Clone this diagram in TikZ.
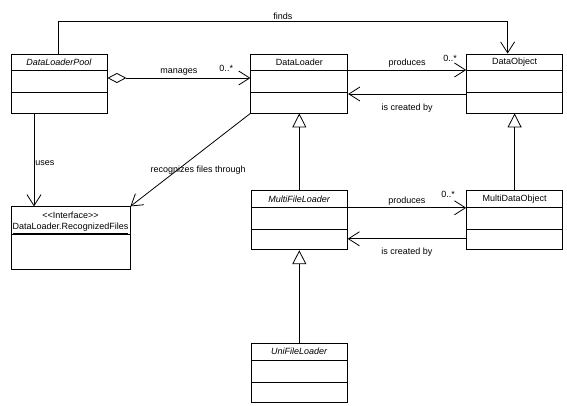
\documentclass[tikz,border=0pt]{standalone}
\usepackage{fontspec}
\setmainfont{Liberation Sans}
\usetikzlibrary{arrows.meta,positioning}

\begin{document}
\begin{tikzpicture}[x=1pt,y=1pt,line width=0.8pt,
  every node/.style={font=\fontsize{9}{11}\selectfont,inner sep=1pt},
  classbox/.style={draw,minimum width=96pt,minimum height=59pt,inner sep=0pt},
  assoc/.style={-{Straight Barb[length=11pt,width=14pt]}},
  aggr/.style={{Diamond[open,length=19pt,width=10pt]}-{Straight Barb[length=11pt,width=14pt]}},
  inherit/.style={-{Triangle[open,length=14pt,width=14pt]}}]
\useasboundingbox (0,0) rectangle (567,406);
% classes
\node[classbox] (pool) at (59,322.5) {};
\node[classbox,minimum width=97pt,right=143pt of pool] (loader) {};
\node[classbox,right=118pt of loader] (object) {};
\node[classbox,below=77pt of loader] (multi) {};
\node[classbox,below=77pt of object] (multiobj) {};
\node[classbox,below=93pt of multi] (uni) {};
\node[classbox,minimum width=119pt,minimum height=63pt,
  below right=93pt and 0pt of pool.south west] (iface) {};
\foreach \c/\t in {pool/\textit{DataLoaderPool},loader/DataLoader,object/DataObject,
    multi/\textit{MultiFileLoader},multiobj/MultiDataObject,uni/\textit{UniFileLoader}}{
  \node at ([yshift=-8.5pt]\c.north) {\t};
  \draw ([yshift=-17pt]\c.north west) -- ([yshift=-17pt]\c.north east)
        ([yshift=-39pt]\c.north west) -- ([yshift=-39pt]\c.north east);
}
\node[align=center] (ifacename) at ([yshift=-16.5pt]iface.north)
  {<\kern0pt<Interface>\kern0pt>\\\underline{DataLoader.RecognizedFiles}};
\draw ([yshift=-28pt]iface.north west) -- ([yshift=-28pt]iface.north east);
% associations
\draw[assoc] ([xshift=-1pt]pool.north) -- ++(0,32)
  -| node[pos=0.25,above=1pt]{finds} ([xshift=-7pt]object.north);
\draw[aggr] ([yshift=5.5pt]pool.east) -- node[above=1pt]{manages}
  node[pos=1,above left=5pt and 16pt]{0..*} ([yshift=5.5pt]loader.west);
\draw[assoc] ([yshift=13.5pt]loader.east) -- node[above=1pt]{produces}
  node[pos=1,above left=7pt and 8pt]{0..*} ([yshift=13.5pt]object.west);
\draw[assoc] ([yshift=-10.5pt]object.west) -- node[below=8.5pt]{is created by}
  ([yshift=-10.5pt]loader.east);
\draw[assoc] ([yshift=12.5pt]multi.east) -- node[above=1pt]{produces}
  node[pos=1,above left=9pt and 10pt]{0..*} ([yshift=12.5pt]multiobj.west);
\draw[assoc] ([yshift=-18.5pt]multiobj.west) -- node[below=8pt]{is created by}
  ([yshift=-18.5pt]multi.east);
\draw[assoc] ([xshift=-25pt]pool.south) -- node[pos=0.54,right=0pt]{uses}
  ([xshift=-25pt]pool.south |- iface.north);
\draw[assoc] (loader.south west) -- node[pos=0.61,xshift=21pt]{recognizes files through}
  (iface.north east);
% generalizations
\draw[inherit] (multi.north) -- (loader.south);
\draw[inherit] (multiobj.north) -- (object.south);
\draw[inherit] (uni.north) -- (multi.south);
\end{tikzpicture}
\end{document}
